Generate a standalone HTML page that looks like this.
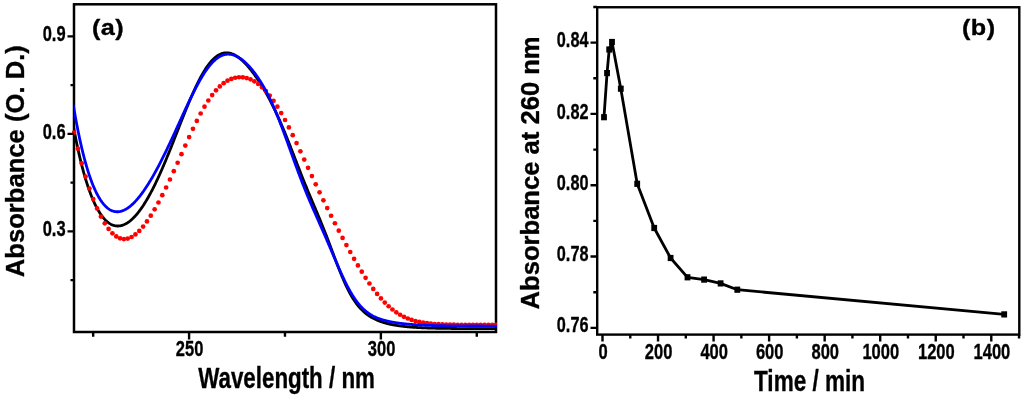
<!DOCTYPE html>
<html><head><meta charset="utf-8"><style>
html,body{margin:0;padding:0;background:#fff;width:1024px;height:397px;overflow:hidden}
svg{display:block;will-change:transform}
text{font-family:"Liberation Sans",sans-serif;font-weight:bold;fill:#000;stroke:#000;stroke-width:0.35px;stroke-linejoin:round}
</style></head><body>
<svg width="1024" height="397" viewBox="0 0 1024 397">
<defs><clipPath id="ca"><rect x="74" y="5.5" width="423" height="325.3"/></clipPath><clipPath id="cr"><rect x="72" y="5.5" width="425" height="325.3"/></clipPath></defs>
<rect x="74" y="4.3" width="422" height="327.7" fill="none" stroke="#000" stroke-width="2.5"/>
<path d="M73.30,125.75 L73.80,128.46 L74.30,131.12 L74.80,133.73 L75.30,136.30 L75.80,138.81 L76.30,141.27 L76.80,143.69 L77.30,146.06 L77.80,148.38 L78.30,150.66 L78.80,152.89 L79.30,155.08 L79.80,157.23 L80.30,159.33 L80.80,161.38 L81.30,163.40 L81.80,165.37 L82.30,167.31 L82.80,169.20 L83.30,171.05 L83.80,172.87 L84.30,174.64 L84.80,176.38 L85.30,178.08 L85.80,179.74 L86.30,181.36 L86.80,182.95 L87.30,184.50 L87.80,186.02 L88.30,187.50 L88.80,188.95 L89.30,190.36 L89.80,191.74 L90.30,193.09 L90.80,194.40 L91.30,195.68 L91.80,196.93 L92.30,198.15 L92.80,199.34 L93.30,200.49 L93.80,201.62 L94.30,202.72 L94.80,203.78 L95.30,204.82 L95.80,205.83 L96.30,206.81 L96.80,207.76 L97.30,208.68 L97.80,209.58 L98.30,210.45 L98.80,211.29 L99.30,212.10 L99.80,212.89 L100.30,213.65 L100.80,214.39 L101.30,215.10 L101.80,215.79 L102.30,216.45 L102.80,217.09 L103.30,217.70 L103.80,218.29 L104.30,218.86 L104.80,219.40 L105.30,219.92 L105.80,220.41 L106.30,220.89 L106.80,221.34 L107.30,221.77 L107.80,222.17 L108.30,222.56 L108.80,222.92 L109.30,223.26 L109.80,223.58 L110.30,223.88 L110.80,224.16 L111.30,224.42 L111.80,224.66 L112.30,224.88 L112.80,225.08 L113.30,225.25 L113.80,225.41 L114.30,225.55 L114.80,225.67 L115.30,225.77 L115.80,225.86 L116.30,225.92 L116.80,225.97 L117.30,226.00 L117.80,226.00 L118.30,226.00 L118.80,225.97 L119.30,225.92 L119.80,225.86 L120.30,225.78 L120.80,225.69 L121.30,225.57 L121.80,225.44 L122.30,225.30 L122.80,225.13 L123.30,224.95 L123.80,224.75 L124.30,224.54 L124.80,224.31 L125.30,224.07 L125.80,223.80 L126.30,223.53 L126.80,223.23 L127.30,222.93 L127.80,222.60 L128.30,222.26 L128.80,221.91 L129.30,221.54 L129.80,221.15 L130.30,220.75 L130.80,220.34 L131.30,219.91 L131.80,219.46 L132.30,219.00 L132.80,218.53 L133.30,218.04 L133.80,217.54 L134.30,217.03 L134.80,216.50 L135.30,215.95 L135.80,215.39 L136.30,214.82 L136.80,214.24 L137.30,213.64 L137.80,213.02 L138.30,212.40 L138.80,211.76 L139.30,211.11 L139.80,210.44 L140.30,209.76 L140.80,209.07 L141.30,208.36 L141.80,207.65 L142.30,206.92 L142.80,206.17 L143.30,205.42 L143.80,204.65 L144.30,203.87 L144.80,203.08 L145.30,202.27 L145.80,201.45 L146.30,200.63 L146.80,199.78 L147.30,198.93 L147.80,198.07 L148.30,197.19 L148.80,196.30 L149.30,195.41 L149.80,194.50 L150.30,193.58 L150.80,192.64 L151.30,191.70 L151.80,190.75 L152.30,189.78 L152.80,188.81 L153.30,187.82 L153.80,186.83 L154.30,185.82 L154.80,184.80 L155.30,183.78 L155.80,182.74 L156.30,181.70 L156.80,180.64 L157.30,179.58 L157.80,178.50 L158.30,177.42 L158.80,176.33 L159.30,175.23 L159.80,174.12 L160.30,173.00 L160.80,171.88 L161.30,170.74 L161.80,169.60 L162.30,168.45 L162.80,167.30 L163.30,166.13 L163.80,164.96 L164.30,163.78 L164.80,162.60 L165.30,161.41 L165.80,160.21 L166.30,159.01 L166.80,157.80 L167.30,156.58 L167.80,155.36 L168.30,154.13 L168.80,152.90 L169.30,151.67 L169.80,150.43 L170.30,149.18 L170.80,147.93 L171.30,146.68 L171.80,145.43 L172.30,144.17 L172.80,142.90 L173.30,141.64 L173.80,140.37 L174.30,139.10 L174.80,137.83 L175.30,136.56 L175.80,135.29 L176.30,134.01 L176.80,132.74 L177.30,131.46 L177.80,130.18 L178.30,128.91 L178.80,127.63 L179.30,126.36 L179.80,125.08 L180.30,123.81 L180.80,122.54 L181.30,121.28 L181.80,120.01 L182.30,118.75 L182.80,117.49 L183.30,116.23 L183.80,114.98 L184.30,113.73 L184.80,112.49 L185.30,111.25 L185.80,110.01 L186.30,108.79 L186.80,107.56 L187.30,106.35 L187.80,105.14 L188.30,103.93 L188.80,102.74 L189.30,101.55 L189.80,100.37 L190.30,99.19 L190.80,98.03 L191.30,96.87 L191.80,95.73 L192.30,94.59 L192.80,93.46 L193.30,92.35 L193.80,91.24 L194.30,90.15 L194.80,89.06 L195.30,87.99 L195.80,86.93 L196.30,85.88 L196.80,84.84 L197.30,83.81 L197.80,82.80 L198.30,81.80 L198.80,80.82 L199.30,79.85 L199.80,78.89 L200.30,77.95 L200.80,77.02 L201.30,76.11 L201.80,75.21 L202.30,74.33 L202.80,73.46 L203.30,72.61 L203.80,71.77 L204.30,70.95 L204.80,70.15 L205.30,69.36 L205.80,68.59 L206.30,67.84 L206.80,67.10 L207.30,66.39 L207.80,65.69 L208.30,65.00 L208.80,64.34 L209.30,63.69 L209.80,63.06 L210.30,62.45 L210.80,61.86 L211.30,61.29 L211.80,60.73 L212.30,60.20 L212.80,59.68 L213.30,59.18 L213.80,58.70 L214.30,58.24 L214.80,57.80 L215.30,57.37 L215.80,56.97 L216.30,56.58 L216.80,56.22 L217.30,55.87 L217.80,55.54 L218.30,55.23 L218.80,54.94 L219.30,54.67 L219.80,54.42 L220.30,54.19 L220.80,53.97 L221.30,53.78 L221.80,53.60 L222.30,53.44 L222.80,53.30 L223.30,53.18 L223.80,53.07 L224.30,52.99 L224.80,52.92 L225.30,52.87 L225.80,52.83 L226.30,52.82 L226.80,52.82 L227.30,52.84 L227.80,52.88 L228.30,52.93 L228.80,53.00 L229.30,53.09 L229.80,53.20 L230.30,53.32 L230.80,53.45 L231.30,53.60 L231.80,53.77 L232.30,53.95 L232.80,54.15 L233.30,54.37 L233.80,54.60 L234.30,54.84 L234.80,55.10 L235.30,55.37 L235.80,55.66 L236.30,55.96 L236.80,56.27 L237.30,56.60 L237.80,56.94 L238.30,57.29 L238.80,57.66 L239.30,58.04 L239.80,58.43 L240.30,58.83 L240.80,59.25 L241.30,59.68 L241.80,60.12 L242.30,60.57 L242.80,61.03 L243.30,61.51 L243.80,61.99 L244.30,62.49 L244.80,63.00 L245.30,63.51 L245.80,64.04 L246.30,64.58 L246.80,65.13 L247.30,65.68 L247.80,66.25 L248.30,66.83 L248.80,67.42 L249.30,68.01 L249.80,68.62 L250.30,69.23 L250.80,69.86 L251.30,70.49 L251.80,71.13 L252.30,71.78 L252.80,72.44 L253.30,73.11 L253.80,73.79 L254.30,74.47 L254.80,75.16 L255.30,75.87 L255.80,76.58 L256.30,77.30 L256.80,78.02 L257.30,78.76 L257.80,79.50 L258.30,80.26 L258.80,81.02 L259.30,81.78 L259.80,82.56 L260.30,83.35 L260.80,84.14 L261.30,84.94 L261.80,85.75 L262.30,86.57 L262.80,87.40 L263.30,88.24 L263.80,89.08 L264.30,89.93 L264.80,90.79 L265.30,91.66 L265.80,92.54 L266.30,93.43 L266.80,94.33 L267.30,95.23 L267.80,96.15 L268.30,97.07 L268.80,98.00 L269.30,98.94 L269.80,99.89 L270.30,100.85 L270.80,101.82 L271.30,102.79 L271.80,103.78 L272.30,104.78 L272.80,105.78 L273.30,106.80 L273.80,107.82 L274.30,108.85 L274.80,109.89 L275.30,110.94 L275.80,112.00 L276.30,113.07 L276.80,114.15 L277.30,115.24 L277.80,116.34 L278.30,117.45 L278.80,118.56 L279.30,119.69 L279.80,120.82 L280.30,121.96 L280.80,123.11 L281.30,124.27 L281.80,125.44 L282.30,126.61 L282.80,127.80 L283.30,128.99 L283.80,130.19 L284.30,131.39 L284.80,132.61 L285.30,133.83 L285.80,135.06 L286.30,136.29 L286.80,137.53 L287.30,138.78 L287.80,140.03 L288.30,141.29 L288.80,142.55 L289.30,143.82 L289.80,145.09 L290.30,146.36 L290.80,147.64 L291.30,148.93 L291.80,150.21 L292.30,151.50 L292.80,152.79 L293.30,154.08 L293.80,155.37 L294.30,156.67 L294.80,157.96 L295.30,159.26 L295.80,160.55 L296.30,161.85 L296.80,163.14 L297.30,164.43 L297.80,165.72 L298.30,167.01 L298.80,168.29 L299.30,169.58 L299.80,170.86 L300.30,172.13 L300.80,173.41 L301.30,174.68 L301.80,175.94 L302.30,177.20 L302.80,178.46 L303.30,179.71 L303.80,180.96 L304.30,182.20 L304.80,183.44 L305.30,184.67 L305.80,185.90 L306.30,187.13 L306.80,188.35 L307.30,189.56 L307.80,190.77 L308.30,191.98 L308.80,193.18 L309.30,194.38 L309.80,195.58 L310.30,196.77 L310.80,197.96 L311.30,199.14 L311.80,200.33 L312.30,201.51 L312.80,202.69 L313.30,203.87 L313.80,205.05 L314.30,206.23 L314.80,207.41 L315.30,208.59 L315.80,209.78 L316.30,210.96 L316.80,212.15 L317.30,213.33 L317.80,214.53 L318.30,215.72 L318.80,216.92 L319.30,218.12 L319.80,219.33 L320.30,220.55 L320.80,221.76 L321.30,222.99 L321.80,224.22 L322.30,225.45 L322.80,226.70 L323.30,227.95 L323.80,229.20 L324.30,230.46 L324.80,231.73 L325.30,233.01 L325.80,234.29 L326.30,235.57 L326.80,236.87 L327.30,238.17 L327.80,239.47 L328.30,240.78 L328.80,242.10 L329.30,243.41 L329.80,244.74 L330.30,246.06 L330.80,247.39 L331.30,248.72 L331.80,250.06 L332.30,251.39 L332.80,252.73 L333.30,254.06 L333.80,255.39 L334.30,256.73 L334.80,258.05 L335.30,259.38 L335.80,260.70 L336.30,262.02 L336.80,263.33 L337.30,264.63 L337.80,265.93 L338.30,267.22 L338.80,268.49 L339.30,269.76 L339.80,271.02 L340.30,272.27 L340.80,273.51 L341.30,274.73 L341.80,275.94 L342.30,277.14 L342.80,278.32 L343.30,279.48 L343.80,280.64 L344.30,281.77 L344.80,282.89 L345.30,283.99 L345.80,285.07 L346.30,286.14 L346.80,287.18 L347.30,288.21 L347.80,289.22 L348.30,290.21 L348.80,291.18 L349.30,292.14 L349.80,293.07 L350.30,293.98 L350.80,294.87 L351.30,295.75 L351.80,296.60 L352.30,297.44 L352.80,298.25 L353.30,299.05 L353.80,299.83 L354.30,300.59 L354.80,301.33 L355.30,302.05 L355.80,302.75 L356.30,303.44 L356.80,304.11 L357.30,304.76 L357.80,305.39 L358.30,306.00 L358.80,306.60 L359.30,307.19 L359.80,307.76 L360.30,308.31 L360.80,308.84 L361.30,309.37 L361.80,309.88 L362.30,310.37 L362.80,310.85 L363.30,311.32 L363.80,311.77 L364.30,312.21 L364.80,312.64 L365.30,313.06 L365.80,313.46 L366.30,313.85 L366.80,314.24 L367.30,314.61 L367.80,314.97 L368.30,315.32 L368.80,315.66 L369.30,316.00 L369.80,316.32 L370.30,316.63 L370.80,316.94 L371.30,317.24 L371.80,317.53 L372.30,317.81 L372.80,318.08 L373.30,318.35 L373.80,318.61 L374.30,318.86 L374.80,319.11 L375.30,319.34 L375.80,319.58 L376.30,319.80 L376.80,320.03 L377.30,320.24 L377.80,320.45 L378.30,320.65 L378.80,320.85 L379.30,321.05 L379.80,321.23 L380.30,321.42 L380.80,321.60 L381.30,321.77 L381.80,321.94 L382.30,322.11 L382.80,322.27 L383.30,322.43 L383.80,322.58 L384.30,322.73 L384.80,322.87 L385.30,323.02 L385.80,323.16 L386.30,323.29 L386.80,323.42 L387.30,323.55 L387.80,323.68 L388.30,323.80 L388.80,323.92 L389.30,324.03 L389.80,324.15 L390.30,324.26 L390.80,324.37 L391.30,324.47 L391.80,324.57 L392.30,324.67 L392.80,324.77 L393.30,324.87 L393.80,324.96 L394.30,325.05 L394.80,325.14 L395.30,325.22 L395.80,325.31 L396.30,325.39 L396.80,325.47 L397.30,325.55 L397.80,325.63 L398.30,325.70 L398.80,325.77 L399.30,325.84 L399.80,325.91 L400.30,325.98 L400.80,326.05 L401.30,326.11 L401.80,326.17 L402.30,326.23 L402.80,326.29 L403.30,326.35 L403.80,326.41 L404.30,326.46 L404.80,326.52 L405.30,326.57 L405.80,326.62 L406.30,326.67 L406.80,326.72 L407.30,326.77 L407.80,326.82 L408.30,326.86 L408.80,326.91 L409.30,326.95 L409.80,326.99 L410.30,327.03 L410.80,327.07 L411.30,327.11 L411.80,327.15 L412.30,327.19 L412.80,327.23 L413.30,327.26 L413.80,327.30 L414.30,327.33 L414.80,327.37 L415.30,327.40 L415.80,327.43 L416.30,327.46 L416.80,327.49 L417.30,327.52 L417.80,327.55 L418.30,327.58 L418.80,327.60 L419.30,327.63 L419.80,327.66 L420.30,327.68 L420.80,327.71 L421.30,327.73 L421.80,327.76 L422.30,327.78 L422.80,327.80 L423.30,327.82 L423.80,327.84 L424.30,327.87 L424.80,327.89 L425.30,327.91 L425.80,327.92 L426.30,327.94 L426.80,327.96 L427.30,327.98 L427.80,328.00 L428.30,328.02 L428.80,328.03 L429.30,328.05 L429.80,328.06 L430.30,328.08 L430.80,328.10 L431.30,328.11 L431.80,328.12 L432.30,328.14 L432.80,328.15 L433.30,328.17 L433.80,328.18 L434.30,328.19 L434.80,328.20 L435.30,328.22 L435.80,328.23 L436.30,328.24 L436.80,328.25 L437.30,328.26 L437.80,328.27 L438.30,328.28 L438.80,328.29 L439.30,328.30 L439.80,328.31 L440.30,328.32 L440.80,328.33 L441.30,328.34 L441.80,328.35 L442.30,328.36 L442.80,328.36 L443.30,328.37 L443.80,328.38 L444.30,328.39 L444.80,328.40 L445.30,328.40 L445.80,328.41 L446.30,328.42 L446.80,328.42 L447.30,328.43 L447.80,328.44 L448.30,328.44 L448.80,328.45 L449.30,328.45 L449.80,328.46 L450.30,328.47 L450.80,328.47 L451.30,328.48 L451.80,328.48 L452.30,328.49 L452.80,328.49 L453.30,328.50 L453.80,328.50 L454.30,328.50 L454.80,328.51 L455.30,328.51 L455.80,328.52 L456.30,328.52 L456.80,328.53 L457.30,328.53 L457.80,328.53 L458.30,328.54 L458.80,328.54 L459.30,328.54 L459.80,328.55 L460.30,328.55 L460.80,328.55 L461.30,328.56 L461.80,328.56 L462.30,328.56 L462.80,328.56 L463.30,328.57 L463.80,328.57 L464.30,328.57 L464.80,328.57 L465.30,328.58 L465.80,328.58 L466.30,328.58 L466.80,328.58 L467.30,328.59 L467.80,328.59 L468.30,328.59 L468.80,328.59 L469.30,328.59 L469.80,328.60 L470.30,328.60 L470.80,328.60 L471.30,328.60 L471.80,328.60 L472.30,328.60 L472.80,328.61 L473.30,328.61 L473.80,328.61 L474.30,328.61 L474.80,328.61 L475.30,328.61 L475.80,328.61 L476.30,328.62 L476.80,328.62 L477.30,328.62 L477.80,328.62 L478.30,328.62 L478.80,328.62 L479.30,328.62 L479.80,328.62 L480.30,328.62 L480.80,328.63 L481.30,328.63 L481.80,328.63 L482.30,328.63 L482.80,328.63 L483.30,328.63 L483.80,328.63 L484.30,328.63 L484.80,328.63 L485.30,328.63 L485.80,328.63 L486.30,328.63 L486.80,328.64 L487.30,328.64 L487.80,328.64 L488.30,328.64 L488.80,328.64 L489.30,328.64 L489.80,328.64 L490.30,328.64 L490.80,328.64 L491.30,328.64 L491.80,328.64 L492.30,328.64 L492.80,328.64 L493.30,328.64 L493.80,328.64 L494.30,328.64 L494.80,328.64 L495.30,328.64 L495.80,328.64 L496.30,328.64 L496.80,328.65 L497.30,328.65 L497.80,328.65 L498.30,328.65 L498.80,328.65 L499.30,328.65" fill="none" stroke="#000" stroke-width="2.8" clip-path="url(#ca)"/>
<g fill="#ff0000" clip-path="url(#cr)"><circle cx="74.06" cy="132.53" r="2.35"/><circle cx="77.90" cy="148.69" r="2.35"/><circle cx="81.74" cy="163.35" r="2.35"/><circle cx="85.57" cy="176.59" r="2.35"/><circle cx="89.41" cy="188.50" r="2.35"/><circle cx="93.24" cy="199.10" r="2.35"/><circle cx="97.08" cy="208.44" r="2.35"/><circle cx="100.92" cy="216.53" r="2.35"/><circle cx="104.75" cy="223.37" r="2.35"/><circle cx="108.59" cy="228.97" r="2.35"/><circle cx="112.42" cy="233.33" r="2.35"/><circle cx="116.26" cy="236.45" r="2.35"/><circle cx="120.10" cy="238.34" r="2.35"/><circle cx="123.93" cy="239.03" r="2.35"/><circle cx="127.77" cy="238.57" r="2.35"/><circle cx="131.60" cy="237.00" r="2.35"/><circle cx="135.44" cy="234.42" r="2.35"/><circle cx="139.28" cy="230.91" r="2.35"/><circle cx="143.11" cy="226.55" r="2.35"/><circle cx="146.95" cy="221.44" r="2.35"/><circle cx="150.78" cy="215.68" r="2.35"/><circle cx="154.62" cy="209.34" r="2.35"/><circle cx="158.46" cy="202.49" r="2.35"/><circle cx="162.29" cy="195.20" r="2.35"/><circle cx="166.13" cy="187.51" r="2.35"/><circle cx="169.96" cy="179.50" r="2.35"/><circle cx="173.80" cy="171.21" r="2.35"/><circle cx="177.64" cy="162.73" r="2.35"/><circle cx="181.47" cy="154.15" r="2.35"/><circle cx="185.31" cy="145.55" r="2.35"/><circle cx="189.14" cy="137.07" r="2.35"/><circle cx="192.98" cy="128.82" r="2.35"/><circle cx="196.82" cy="120.94" r="2.35"/><circle cx="200.65" cy="113.52" r="2.35"/><circle cx="204.49" cy="106.69" r="2.35"/><circle cx="208.32" cy="100.52" r="2.35"/><circle cx="212.16" cy="95.06" r="2.35"/><circle cx="216.00" cy="90.36" r="2.35"/><circle cx="219.83" cy="86.40" r="2.35"/><circle cx="223.67" cy="83.20" r="2.35"/><circle cx="227.50" cy="80.71" r="2.35"/><circle cx="231.34" cy="78.91" r="2.35"/><circle cx="235.18" cy="77.77" r="2.35"/><circle cx="239.01" cy="77.25" r="2.35"/><circle cx="242.85" cy="77.35" r="2.35"/><circle cx="246.68" cy="78.06" r="2.35"/><circle cx="250.52" cy="79.37" r="2.35"/><circle cx="254.36" cy="81.31" r="2.35"/><circle cx="258.19" cy="83.89" r="2.35"/><circle cx="262.03" cy="87.13" r="2.35"/><circle cx="265.86" cy="91.03" r="2.35"/><circle cx="269.70" cy="95.60" r="2.35"/><circle cx="273.54" cy="100.82" r="2.35"/><circle cx="277.37" cy="106.66" r="2.35"/><circle cx="281.21" cy="113.09" r="2.35"/><circle cx="285.04" cy="120.02" r="2.35"/><circle cx="288.88" cy="127.40" r="2.35"/><circle cx="292.72" cy="135.13" r="2.35"/><circle cx="296.55" cy="143.12" r="2.35"/><circle cx="300.39" cy="151.30" r="2.35"/><circle cx="304.22" cy="159.57" r="2.35"/><circle cx="308.06" cy="167.86" r="2.35"/><circle cx="311.90" cy="176.12" r="2.35"/><circle cx="315.73" cy="184.29" r="2.35"/><circle cx="319.57" cy="192.36" r="2.35"/><circle cx="323.40" cy="200.29" r="2.35"/><circle cx="327.24" cy="208.08" r="2.35"/><circle cx="331.08" cy="215.73" r="2.35"/><circle cx="334.91" cy="223.25" r="2.35"/><circle cx="338.75" cy="230.64" r="2.35"/><circle cx="342.58" cy="237.90" r="2.35"/><circle cx="346.42" cy="245.03" r="2.35"/><circle cx="350.26" cy="252.00" r="2.35"/><circle cx="354.09" cy="258.79" r="2.35"/><circle cx="357.93" cy="265.38" r="2.35"/><circle cx="361.76" cy="271.72" r="2.35"/><circle cx="365.60" cy="277.79" r="2.35"/><circle cx="369.44" cy="283.52" r="2.35"/><circle cx="373.27" cy="288.90" r="2.35"/><circle cx="377.11" cy="293.88" r="2.35"/><circle cx="380.94" cy="298.44" r="2.35"/><circle cx="384.78" cy="302.57" r="2.35"/><circle cx="388.62" cy="306.25" r="2.35"/><circle cx="392.45" cy="309.50" r="2.35"/><circle cx="396.29" cy="312.32" r="2.35"/><circle cx="400.12" cy="314.74" r="2.35"/><circle cx="403.96" cy="316.78" r="2.35"/><circle cx="407.80" cy="318.49" r="2.35"/><circle cx="411.63" cy="319.89" r="2.35"/><circle cx="415.47" cy="321.03" r="2.35"/><circle cx="419.30" cy="321.94" r="2.35"/><circle cx="423.14" cy="322.66" r="2.35"/><circle cx="426.98" cy="323.22" r="2.35"/><circle cx="430.81" cy="323.65" r="2.35"/><circle cx="434.65" cy="323.98" r="2.35"/><circle cx="438.48" cy="324.22" r="2.35"/><circle cx="442.32" cy="324.41" r="2.35"/><circle cx="446.16" cy="324.54" r="2.35"/><circle cx="449.99" cy="324.63" r="2.35"/><circle cx="453.83" cy="324.70" r="2.35"/><circle cx="457.66" cy="324.75" r="2.35"/><circle cx="461.50" cy="324.78" r="2.35"/><circle cx="465.34" cy="324.81" r="2.35"/><circle cx="469.17" cy="324.82" r="2.35"/><circle cx="473.01" cy="324.83" r="2.35"/><circle cx="476.84" cy="324.84" r="2.35"/><circle cx="480.68" cy="324.85" r="2.35"/><circle cx="484.52" cy="324.85" r="2.35"/><circle cx="488.35" cy="324.85" r="2.35"/><circle cx="492.19" cy="324.85" r="2.35"/><circle cx="496.02" cy="324.86" r="2.35"/></g>
<path d="M73.30,104.80 L73.80,107.79 L74.30,110.72 L74.80,113.60 L75.30,116.42 L75.80,119.18 L76.30,121.88 L76.80,124.53 L77.30,127.13 L77.80,129.68 L78.30,132.17 L78.80,134.61 L79.30,137.00 L79.80,139.34 L80.30,141.63 L80.80,143.87 L81.30,146.06 L81.80,148.21 L82.30,150.31 L82.80,152.36 L83.30,154.37 L83.80,156.33 L84.30,158.25 L84.80,160.12 L85.30,161.96 L85.80,163.75 L86.30,165.49 L86.80,167.20 L87.30,168.87 L87.80,170.50 L88.30,172.08 L88.80,173.63 L89.30,175.14 L89.80,176.61 L90.30,178.05 L90.80,179.45 L91.30,180.81 L91.80,182.14 L92.30,183.43 L92.80,184.68 L93.30,185.91 L93.80,187.09 L94.30,188.25 L94.80,189.37 L95.30,190.46 L95.80,191.52 L96.30,192.54 L96.80,193.53 L97.30,194.50 L97.80,195.43 L98.30,196.33 L98.80,197.20 L99.30,198.05 L99.80,198.86 L100.30,199.65 L100.80,200.41 L101.30,201.14 L101.80,201.84 L102.30,202.52 L102.80,203.16 L103.30,203.79 L103.80,204.38 L104.30,204.95 L104.80,205.50 L105.30,206.02 L105.80,206.52 L106.30,206.99 L106.80,207.44 L107.30,207.86 L107.80,208.26 L108.30,208.64 L108.80,208.99 L109.30,209.32 L109.80,209.63 L110.30,209.92 L110.80,210.18 L111.30,210.43 L111.80,210.65 L112.30,210.85 L112.80,211.03 L113.30,211.19 L113.80,211.33 L114.30,211.45 L114.80,211.55 L115.30,211.63 L115.80,211.70 L116.30,211.74 L116.80,211.76 L117.30,211.77 L117.80,211.76 L118.30,211.73 L118.80,211.68 L119.30,211.61 L119.80,211.53 L120.30,211.43 L120.80,211.31 L121.30,211.18 L121.80,211.03 L122.30,210.86 L122.80,210.68 L123.30,210.48 L123.80,210.27 L124.30,210.04 L124.80,209.79 L125.30,209.53 L125.80,209.26 L126.30,208.97 L126.80,208.66 L127.30,208.34 L127.80,208.01 L128.30,207.66 L128.80,207.30 L129.30,206.93 L129.80,206.54 L130.30,206.14 L130.80,205.72 L131.30,205.29 L131.80,204.85 L132.30,204.40 L132.80,203.93 L133.30,203.45 L133.80,202.96 L134.30,202.46 L134.80,201.94 L135.30,201.41 L135.80,200.87 L136.30,200.32 L136.80,199.76 L137.30,199.19 L137.80,198.60 L138.30,198.01 L138.80,197.40 L139.30,196.78 L139.80,196.15 L140.30,195.52 L140.80,194.87 L141.30,194.21 L141.80,193.54 L142.30,192.86 L142.80,192.17 L143.30,191.47 L143.80,190.76 L144.30,190.04 L144.80,189.31 L145.30,188.58 L145.80,187.83 L146.30,187.07 L146.80,186.31 L147.30,185.53 L147.80,184.75 L148.30,183.96 L148.80,183.16 L149.30,182.35 L149.80,181.54 L150.30,180.71 L150.80,179.88 L151.30,179.04 L151.80,178.19 L152.30,177.33 L152.80,176.47 L153.30,175.60 L153.80,174.72 L154.30,173.83 L154.80,172.93 L155.30,172.03 L155.80,171.12 L156.30,170.21 L156.80,169.28 L157.30,168.36 L157.80,167.42 L158.30,166.48 L158.80,165.53 L159.30,164.57 L159.80,163.61 L160.30,162.64 L160.80,161.67 L161.30,160.69 L161.80,159.70 L162.30,158.71 L162.80,157.71 L163.30,156.71 L163.80,155.71 L164.30,154.69 L164.80,153.67 L165.30,152.65 L165.80,151.62 L166.30,150.59 L166.80,149.56 L167.30,148.51 L167.80,147.47 L168.30,146.42 L168.80,145.37 L169.30,144.31 L169.80,143.25 L170.30,142.18 L170.80,141.12 L171.30,140.04 L171.80,138.97 L172.30,137.89 L172.80,136.81 L173.30,135.73 L173.80,134.65 L174.30,133.56 L174.80,132.47 L175.30,131.38 L175.80,130.29 L176.30,129.20 L176.80,128.10 L177.30,127.01 L177.80,125.91 L178.30,124.81 L178.80,123.71 L179.30,122.62 L179.80,121.52 L180.30,120.42 L180.80,119.32 L181.30,118.23 L181.80,117.13 L182.30,116.04 L182.80,114.95 L183.30,113.86 L183.80,112.77 L184.30,111.68 L184.80,110.60 L185.30,109.51 L185.80,108.43 L186.30,107.36 L186.80,106.29 L187.30,105.22 L187.80,104.15 L188.30,103.09 L188.80,102.04 L189.30,100.99 L189.80,99.94 L190.30,98.90 L190.80,97.87 L191.30,96.84 L191.80,95.81 L192.30,94.80 L192.80,93.79 L193.30,92.79 L193.80,91.79 L194.30,90.80 L194.80,89.82 L195.30,88.85 L195.80,87.89 L196.30,86.94 L196.80,85.99 L197.30,85.05 L197.80,84.13 L198.30,83.21 L198.80,82.31 L199.30,81.41 L199.80,80.53 L200.30,79.65 L200.80,78.79 L201.30,77.94 L201.80,77.10 L202.30,76.27 L202.80,75.46 L203.30,74.66 L203.80,73.87 L204.30,73.09 L204.80,72.33 L205.30,71.58 L205.80,70.84 L206.30,70.12 L206.80,69.41 L207.30,68.72 L207.80,68.04 L208.30,67.38 L208.80,66.73 L209.30,66.09 L209.80,65.48 L210.30,64.87 L210.80,64.29 L211.30,63.71 L211.80,63.16 L212.30,62.62 L212.80,62.10 L213.30,61.59 L213.80,61.10 L214.30,60.62 L214.80,60.17 L215.30,59.72 L215.80,59.30 L216.30,58.89 L216.80,58.50 L217.30,58.13 L217.80,57.77 L218.30,57.43 L218.80,57.11 L219.30,56.81 L219.80,56.52 L220.30,56.25 L220.80,55.99 L221.30,55.75 L221.80,55.53 L222.30,55.33 L222.80,55.14 L223.30,54.98 L223.80,54.82 L224.30,54.69 L224.80,54.57 L225.30,54.46 L225.80,54.38 L226.30,54.31 L226.80,54.26 L227.30,54.22 L227.80,54.20 L228.30,54.19 L228.80,54.20 L229.30,54.23 L229.80,54.27 L230.30,54.33 L230.80,54.40 L231.30,54.49 L231.80,54.59 L232.30,54.71 L232.80,54.84 L233.30,54.99 L233.80,55.15 L234.30,55.32 L234.80,55.51 L235.30,55.72 L235.80,55.93 L236.30,56.17 L236.80,56.41 L237.30,56.67 L237.80,56.94 L238.30,57.22 L238.80,57.52 L239.30,57.83 L239.80,58.15 L240.30,58.49 L240.80,58.83 L241.30,59.19 L241.80,59.56 L242.30,59.95 L242.80,60.34 L243.30,60.75 L243.80,61.17 L244.30,61.60 L244.80,62.04 L245.30,62.49 L245.80,62.96 L246.30,63.43 L246.80,63.92 L247.30,64.42 L247.80,64.93 L248.30,65.45 L248.80,65.98 L249.30,66.52 L249.80,67.07 L250.30,67.63 L250.80,68.21 L251.30,68.79 L251.80,69.39 L252.30,70.00 L252.80,70.62 L253.30,71.25 L253.80,71.89 L254.30,72.54 L254.80,73.20 L255.30,73.87 L255.80,74.56 L256.30,75.26 L256.80,75.96 L257.30,76.68 L257.80,77.41 L258.30,78.16 L258.80,78.91 L259.30,79.68 L259.80,80.45 L260.30,81.24 L260.80,82.04 L261.30,82.86 L261.80,83.68 L262.30,84.52 L262.80,85.37 L263.30,86.24 L263.80,87.11 L264.30,88.00 L264.80,88.90 L265.30,89.81 L265.80,90.74 L266.30,91.68 L266.80,92.63 L267.30,93.60 L267.80,94.58 L268.30,95.57 L268.80,96.57 L269.30,97.59 L269.80,98.62 L270.30,99.67 L270.80,100.72 L271.30,101.79 L271.80,102.88 L272.30,103.97 L272.80,105.08 L273.30,106.20 L273.80,107.34 L274.30,108.48 L274.80,109.64 L275.30,110.81 L275.80,111.99 L276.30,113.19 L276.80,114.40 L277.30,115.61 L277.80,116.84 L278.30,118.08 L278.80,119.33 L279.30,120.59 L279.80,121.86 L280.30,123.15 L280.80,124.44 L281.30,125.73 L281.80,127.04 L282.30,128.36 L282.80,129.68 L283.30,131.02 L283.80,132.35 L284.30,133.70 L284.80,135.05 L285.30,136.41 L285.80,137.77 L286.30,139.14 L286.80,140.51 L287.30,141.89 L287.80,143.27 L288.30,144.65 L288.80,146.04 L289.30,147.43 L289.80,148.82 L290.30,150.21 L290.80,151.60 L291.30,152.99 L291.80,154.38 L292.30,155.76 L292.80,157.15 L293.30,158.54 L293.80,159.92 L294.30,161.30 L294.80,162.68 L295.30,164.05 L295.80,165.42 L296.30,166.78 L296.80,168.14 L297.30,169.50 L297.80,170.85 L298.30,172.19 L298.80,173.53 L299.30,174.86 L299.80,176.18 L300.30,177.50 L300.80,178.81 L301.30,180.11 L301.80,181.41 L302.30,182.70 L302.80,183.98 L303.30,185.25 L303.80,186.51 L304.30,187.77 L304.80,189.02 L305.30,190.26 L305.80,191.50 L306.30,192.72 L306.80,193.94 L307.30,195.16 L307.80,196.36 L308.30,197.56 L308.80,198.75 L309.30,199.94 L309.80,201.12 L310.30,202.29 L310.80,203.46 L311.30,204.62 L311.80,205.78 L312.30,206.93 L312.80,208.08 L313.30,209.23 L313.80,210.37 L314.30,211.51 L314.80,212.65 L315.30,213.78 L315.80,214.91 L316.30,216.04 L316.80,217.17 L317.30,218.30 L317.80,219.43 L318.30,220.55 L318.80,221.68 L319.30,222.81 L319.80,223.94 L320.30,225.07 L320.80,226.20 L321.30,227.33 L321.80,228.46 L322.30,229.60 L322.80,230.74 L323.30,231.88 L323.80,233.02 L324.30,234.17 L324.80,235.31 L325.30,236.47 L325.80,237.62 L326.30,238.78 L326.80,239.93 L327.30,241.10 L327.80,242.26 L328.30,243.43 L328.80,244.60 L329.30,245.77 L329.80,246.94 L330.30,248.11 L330.80,249.29 L331.30,250.47 L331.80,251.64 L332.30,252.82 L332.80,254.00 L333.30,255.18 L333.80,256.35 L334.30,257.53 L334.80,258.70 L335.30,259.87 L335.80,261.04 L336.30,262.21 L336.80,263.37 L337.30,264.53 L337.80,265.68 L338.30,266.83 L338.80,267.97 L339.30,269.11 L339.80,270.24 L340.30,271.36 L340.80,272.48 L341.30,273.58 L341.80,274.68 L342.30,275.77 L342.80,276.85 L343.30,277.92 L343.80,278.97 L344.30,280.02 L344.80,281.06 L345.30,282.08 L345.80,283.09 L346.30,284.09 L346.80,285.07 L347.30,286.04 L347.80,287.00 L348.30,287.94 L348.80,288.87 L349.30,289.79 L349.80,290.68 L350.30,291.57 L350.80,292.43 L351.30,293.29 L351.80,294.12 L352.30,294.94 L352.80,295.75 L353.30,296.54 L353.80,297.31 L354.30,298.07 L354.80,298.81 L355.30,299.53 L355.80,300.24 L356.30,300.93 L356.80,301.61 L357.30,302.27 L357.80,302.91 L358.30,303.54 L358.80,304.15 L359.30,304.75 L359.80,305.33 L360.30,305.90 L360.80,306.45 L361.30,306.99 L361.80,307.51 L362.30,308.02 L362.80,308.51 L363.30,308.99 L363.80,309.46 L364.30,309.91 L364.80,310.35 L365.30,310.78 L365.80,311.20 L366.30,311.60 L366.80,311.99 L367.30,312.37 L367.80,312.74 L368.30,313.10 L368.80,313.45 L369.30,313.79 L369.80,314.11 L370.30,314.43 L370.80,314.74 L371.30,315.03 L371.80,315.32 L372.30,315.60 L372.80,315.88 L373.30,316.14 L373.80,316.39 L374.30,316.64 L374.80,316.88 L375.30,317.12 L375.80,317.34 L376.30,317.56 L376.80,317.77 L377.30,317.98 L377.80,318.18 L378.30,318.38 L378.80,318.57 L379.30,318.75 L379.80,318.93 L380.30,319.10 L380.80,319.27 L381.30,319.43 L381.80,319.59 L382.30,319.75 L382.80,319.90 L383.30,320.04 L383.80,320.18 L384.30,320.32 L384.80,320.46 L385.30,320.59 L385.80,320.72 L386.30,320.84 L386.80,320.96 L387.30,321.08 L387.80,321.20 L388.30,321.31 L388.80,321.42 L389.30,321.52 L389.80,321.63 L390.30,321.73 L390.80,321.83 L391.30,321.93 L391.80,322.02 L392.30,322.11 L392.80,322.20 L393.30,322.29 L393.80,322.38 L394.30,322.46 L394.80,322.54 L395.30,322.62 L395.80,322.70 L396.30,322.78 L396.80,322.85 L397.30,322.92 L397.80,323.00 L398.30,323.07 L398.80,323.13 L399.30,323.20 L399.80,323.27 L400.30,323.33 L400.80,323.39 L401.30,323.45 L401.80,323.51 L402.30,323.57 L402.80,323.63 L403.30,323.69 L403.80,323.74 L404.30,323.80 L404.80,323.85 L405.30,323.90 L405.80,323.95 L406.30,324.00 L406.80,324.05 L407.30,324.09 L407.80,324.14 L408.30,324.19 L408.80,324.23 L409.30,324.27 L409.80,324.31 L410.30,324.36 L410.80,324.40 L411.30,324.44 L411.80,324.47 L412.30,324.51 L412.80,324.55 L413.30,324.59 L413.80,324.62 L414.30,324.66 L414.80,324.69 L415.30,324.72 L415.80,324.75 L416.30,324.79 L416.80,324.82 L417.30,324.85 L417.80,324.88 L418.30,324.91 L418.80,324.93 L419.30,324.96 L419.80,324.99 L420.30,325.02 L420.80,325.04 L421.30,325.07 L421.80,325.09 L422.30,325.12 L422.80,325.14 L423.30,325.16 L423.80,325.18 L424.30,325.21 L424.80,325.23 L425.30,325.25 L425.80,325.27 L426.30,325.29 L426.80,325.31 L427.30,325.33 L427.80,325.35 L428.30,325.36 L428.80,325.38 L429.30,325.40 L429.80,325.42 L430.30,325.43 L430.80,325.45 L431.30,325.46 L431.80,325.48 L432.30,325.50 L432.80,325.51 L433.30,325.52 L433.80,325.54 L434.30,325.55 L434.80,325.56 L435.30,325.58 L435.80,325.59 L436.30,325.60 L436.80,325.61 L437.30,325.63 L437.80,325.64 L438.30,325.65 L438.80,325.66 L439.30,325.67 L439.80,325.68 L440.30,325.69 L440.80,325.70 L441.30,325.71 L441.80,325.72 L442.30,325.73 L442.80,325.74 L443.30,325.75 L443.80,325.75 L444.30,325.76 L444.80,325.77 L445.30,325.78 L445.80,325.79 L446.30,325.79 L446.80,325.80 L447.30,325.81 L447.80,325.81 L448.30,325.82 L448.80,325.83 L449.30,325.83 L449.80,325.84 L450.30,325.85 L450.80,325.85 L451.30,325.86 L451.80,325.86 L452.30,325.87 L452.80,325.87 L453.30,325.88 L453.80,325.88 L454.30,325.89 L454.80,325.89 L455.30,325.90 L455.80,325.90 L456.30,325.91 L456.80,325.91 L457.30,325.91 L457.80,325.92 L458.30,325.92 L458.80,325.93 L459.30,325.93 L459.80,325.93 L460.30,325.94 L460.80,325.94 L461.30,325.94 L461.80,325.95 L462.30,325.95 L462.80,325.95 L463.30,325.96 L463.80,325.96 L464.30,325.96 L464.80,325.96 L465.30,325.97 L465.80,325.97 L466.30,325.97 L466.80,325.97 L467.30,325.98 L467.80,325.98 L468.30,325.98 L468.80,325.98 L469.30,325.99 L469.80,325.99 L470.30,325.99 L470.80,325.99 L471.30,325.99 L471.80,325.99 L472.30,326.00 L472.80,326.00 L473.30,326.00 L473.80,326.00 L474.30,326.00 L474.80,326.00 L475.30,326.01 L475.80,326.01 L476.30,326.01 L476.80,326.01 L477.30,326.01 L477.80,326.01 L478.30,326.01 L478.80,326.02 L479.30,326.02 L479.80,326.02 L480.30,326.02 L480.80,326.02 L481.30,326.02 L481.80,326.02 L482.30,326.02 L482.80,326.02 L483.30,326.02 L483.80,326.03 L484.30,326.03 L484.80,326.03 L485.30,326.03 L485.80,326.03 L486.30,326.03 L486.80,326.03 L487.30,326.03 L487.80,326.03 L488.30,326.03 L488.80,326.03 L489.30,326.03 L489.80,326.03 L490.30,326.03 L490.80,326.03 L491.30,326.04 L491.80,326.04 L492.30,326.04 L492.80,326.04 L493.30,326.04 L493.80,326.04 L494.30,326.04 L494.80,326.04 L495.30,326.04 L495.80,326.04 L496.30,326.04 L496.80,326.04 L497.30,326.04 L497.80,326.04 L498.30,326.04 L498.80,326.04 L499.30,326.04" fill="none" stroke="#0000ff" stroke-width="2.8" clip-path="url(#ca)"/>
<polyline points="604.00,117.20 607.05,73.10 609.20,49.50 612.00,42.00 620.80,88.70 637.20,183.80 654.20,228.00 670.60,258.00 687.50,277.30 704.10,279.60 720.60,283.40 737.30,289.70 1004.20,314.40" fill="none" stroke="#000" stroke-width="2.8" stroke-linejoin="round"/>
<rect x="601.10" y="114.10" width="5.8" height="6.2" fill="#000"/><rect x="604.15" y="70.00" width="5.8" height="6.2" fill="#000"/><rect x="606.30" y="46.40" width="5.8" height="6.2" fill="#000"/><rect x="609.10" y="38.90" width="5.8" height="6.2" fill="#000"/><rect x="617.90" y="85.60" width="5.8" height="6.2" fill="#000"/><rect x="634.30" y="180.70" width="5.8" height="6.2" fill="#000"/><rect x="651.30" y="224.90" width="5.8" height="6.2" fill="#000"/><rect x="667.70" y="254.90" width="5.8" height="6.2" fill="#000"/><rect x="684.60" y="274.20" width="5.8" height="6.2" fill="#000"/><rect x="701.20" y="276.50" width="5.8" height="6.2" fill="#000"/><rect x="717.70" y="280.30" width="5.8" height="6.2" fill="#000"/><rect x="734.40" y="286.60" width="5.8" height="6.2" fill="#000"/><rect x="1001.30" y="311.30" width="5.8" height="6.2" fill="#000"/>
<path d="M67.5,36.40H74 M67.5,133.90H74 M67.5,231.40H74 M70.5,85.15H74 M70.5,182.65H74 M70.5,280.15H74 M189.08,332V339.6 M380.88,332V339.6 M93.18,332V336.8 M284.98,332V336.8 M476.78,332V336.8 M590.5,42.60H597 M590.5,113.92H597 M590.5,185.24H597 M590.5,256.56H597 M590.5,327.88H597 M593.3,6.94H597 M593.3,78.26H597 M593.3,149.58H597 M593.3,220.90H597 M593.3,292.22H597 M602.50,334.6V341.5 M658.04,334.6V341.5 M713.58,334.6V341.5 M769.12,334.6V341.5 M824.66,334.6V341.5 M880.20,334.6V341.5 M935.74,334.6V341.5 M991.28,334.6V341.5 M630.27,334.6V338.6 M685.81,334.6V338.6 M741.35,334.6V338.6 M796.89,334.6V338.6 M852.43,334.6V338.6 M907.97,334.6V338.6 M963.51,334.6V338.6 M1019.05,334.6V338.6" stroke="#000" stroke-width="2.4" fill="none"/>
<rect x="597.2" y="7.25" width="422.1" height="327.35" fill="none" stroke="#000" stroke-width="2.4"/>
<text transform="translate(65.6,41.4) scale(0.75,1)" text-anchor="end" font-size="22" >0.9</text>
<text transform="translate(65.6,138.5) scale(0.75,1)" text-anchor="end" font-size="22" >0.6</text>
<text transform="translate(65.6,236.4) scale(0.75,1)" text-anchor="end" font-size="22" >0.3</text>
<text transform="translate(189.6,356.2) scale(0.75,1)" text-anchor="middle" font-size="22" >250</text>
<text transform="translate(381.6,356.2) scale(0.75,1)" text-anchor="middle" font-size="22" >300</text>
<text transform="translate(198.2,387.8) scale(0.758,1)" text-anchor="start" font-size="29.5" >Wavelength / nm</text>
<text transform="translate(24.0,161.2) rotate(-90)" text-anchor="middle" font-size="26.5" textLength="232" lengthAdjust="spacingAndGlyphs">Absorbance (O. D.)</text>
<text transform="translate(92.0,34.8) scale(1.12,1)" text-anchor="start" font-size="22.5" letter-spacing="0.4">(a)</text>
<text transform="translate(588.5,47.2) scale(0.74,1)" text-anchor="end" font-size="22" >0.84</text>
<text transform="translate(588.5,118.52) scale(0.74,1)" text-anchor="end" font-size="22" >0.82</text>
<text transform="translate(588.5,189.84) scale(0.74,1)" text-anchor="end" font-size="22" >0.80</text>
<text transform="translate(588.5,261.16) scale(0.74,1)" text-anchor="end" font-size="22" >0.78</text>
<text transform="translate(588.5,332.48) scale(0.74,1)" text-anchor="end" font-size="22" >0.76</text>
<text transform="translate(603.1,359.3) scale(0.77,1)" text-anchor="middle" font-size="21.5" >0</text>
<text transform="translate(658.64,359.3) scale(0.77,1)" text-anchor="middle" font-size="21.5" >200</text>
<text transform="translate(714.18,359.3) scale(0.77,1)" text-anchor="middle" font-size="21.5" >400</text>
<text transform="translate(769.72,359.3) scale(0.77,1)" text-anchor="middle" font-size="21.5" >600</text>
<text transform="translate(825.26,359.3) scale(0.77,1)" text-anchor="middle" font-size="21.5" >800</text>
<text transform="translate(880.8,359.3) scale(0.77,1)" text-anchor="middle" font-size="21.5" >1000</text>
<text transform="translate(936.34,359.3) scale(0.77,1)" text-anchor="middle" font-size="21.5" >1200</text>
<text transform="translate(991.88,359.3) scale(0.77,1)" text-anchor="middle" font-size="21.5" >1400</text>
<text transform="translate(754.0,391) scale(0.765,1)" text-anchor="start" font-size="29.5" >Time / min</text>
<text transform="translate(539.2,172.9) rotate(-90)" text-anchor="middle" font-size="25.2" textLength="273" lengthAdjust="spacingAndGlyphs">Absorbance at 260 nm</text>
<text transform="translate(962.0,34.7) scale(1.12,1)" text-anchor="start" font-size="22.5" letter-spacing="0.4">(b)</text>
</svg>
</body></html>
